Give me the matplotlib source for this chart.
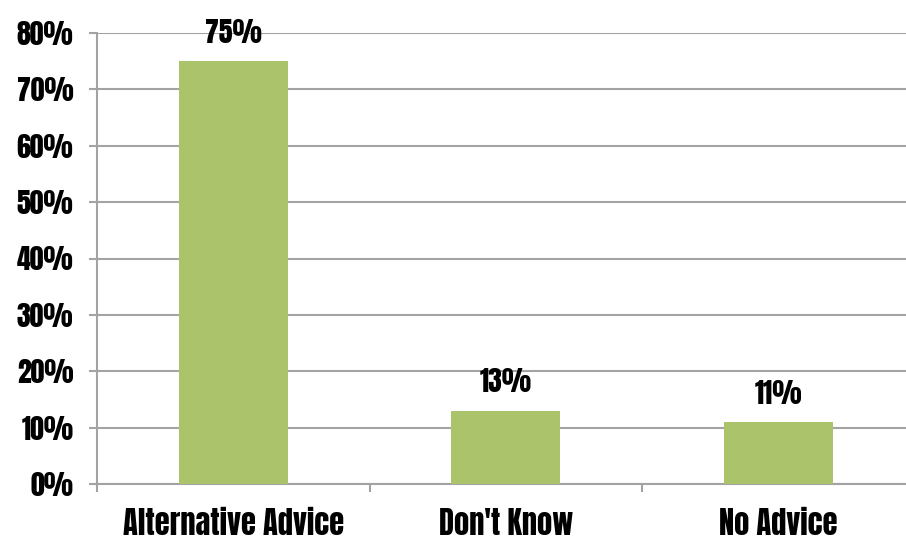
import matplotlib.pyplot as plt
import numpy as np

categories = ['Alternative Advice', "Don't Know", 'No Advice']
values = [75, 13, 11]
yticks = [0, 10, 20, 30, 40, 50, 60, 70, 80]

# heavy condensed face, with fallbacks
plt.rcParams['font.family'] = ['Anton', 'Oswald', 'DejaVu Sans']

grid_col = '#a3a3a3'
fsize = 20

fig = plt.figure(figsize=(9.06, 5.42), dpi=100)
ax = fig.add_axes([97 / 906, 58 / 542, 817.5 / 906, 451 / 542])

x = np.arange(len(categories))
bars = ax.bar(x, values, width=0.4, color='#abc46b', zorder=3)

for b, v in zip(bars, values):
    ax.annotate(f'{v}%', (b.get_x() + b.get_width() / 2, v),
                xytext=(0, 11), textcoords='offset points',
                ha='center', va='bottom', fontsize=fsize)

ax.set_xlim(-0.5, 2.5)
ax.set_ylim(0, 80)
ax.set_yticks(yticks)
ax.set_yticklabels([f'{t}%' for t in yticks], fontsize=fsize)
ax.yaxis.grid(True, color=grid_col, linewidth=1.5, zorder=0)

# category labels centred, ticks at the boundaries between categories
ax.set_xticks(x)
ax.set_xticklabels(categories, fontsize=22)
ax.tick_params(axis='x', length=0, pad=17)
ax.set_xticks([-0.5, 0.5, 1.5, 2.5], minor=True)
ax.tick_params(axis='x', which='minor', length=6, width=1.5, color=grid_col, direction='out')
ax.tick_params(axis='y', length=6, width=1.5, color=grid_col, pad=11)

for s in ['top', 'right']:
    ax.spines[s].set_visible(False)
for s in ['left', 'bottom']:
    ax.spines[s].set_color(grid_col)
    ax.spines[s].set_linewidth(1.5)

fig.savefig('out.png', dpi=100)
